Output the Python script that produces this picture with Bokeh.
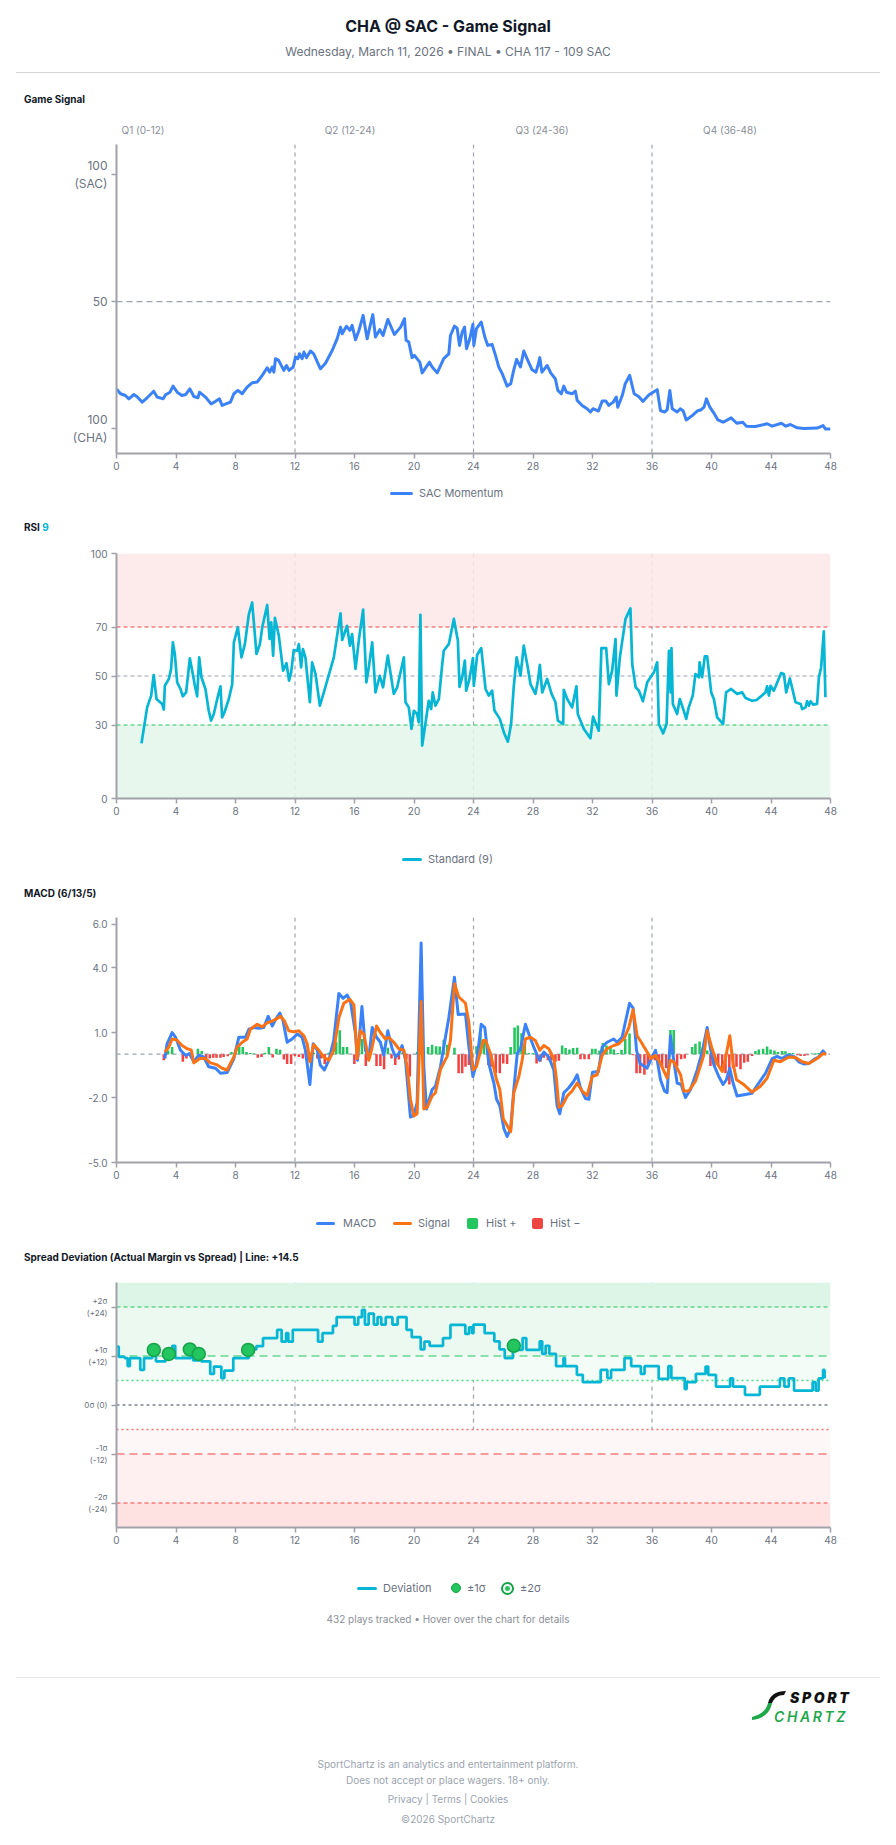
from bokeh.plotting import figure
from bokeh.models import (Span, BoxAnnotation, FixedTicker, Div, NumeralTickFormatter, Range1d)
from bokeh.layouts import column
from bokeh.embed import file_html
from bokeh.resources import INLINE

# ---------------- data ----------------
quarter_labels = ["Q1 (0-12)", "Q2 (12-24)", "Q3 (24-36)", "Q4 (36-48)"]
quarter_breaks = [12, 24, 36]
x_ticks = [0, 4, 8, 12, 16, 20, 24, 28, 32, 36, 40, 44, 48]

# SAC momentum (0 = 100 CHA, 100 = 100 SAC)
momentum = [(0, 15.7), (0.27, 13.8), (0.6, 13.1), (0.83, 11.8), (1.17, 13.5), (1.4, 12.5), (1.73, 10.5),
            (2.06, 12.2), (2.5, 14.8), (2.73, 12.5), (3.14, 11.8), (3.3, 13.4), (3.6, 14.4), (3.8, 16.8),
            (4.08, 14.4), (4.4, 13.1), (4.66, 13.5), (4.93, 15.7), (5.2, 12.7), (5.47, 12.2), (5.58, 14.4),
            (5.98, 12.5), (6.36, 9.8), (6.66, 10.8), (6.92, 11.8), (7.1, 9.2), (7.66, 10.5), (7.89, 13.8),
            (8.16, 15.1), (8.45, 13.8), (8.78, 16.4), (9.12, 18.1), (9.46, 18.4), (9.8, 21.0), (10.13, 24.0),
            (10.3, 22.3), (10.47, 24.3), (10.58, 22.3), (10.69, 27.6), (10.9, 26.9), (11.25, 23.0),
            (11.43, 24.9), (11.6, 23.0), (11.88, 24.3), (12.03, 28.2), (12.2, 27.6), (12.3, 29.5),
            (12.48, 27.6), (12.6, 30.2), (12.77, 28.0), (13.04, 30.6), (13.26, 29.5), (13.71, 23.6),
            (14.05, 25.8), (14.5, 30.8), (14.83, 35.4), (15.06, 40.0), (15.17, 37.4), (15.46, 40.3),
            (15.69, 38.7), (15.84, 40.7), (16.07, 35.0), (16.3, 38.7), (16.58, 44.6), (16.85, 35.4),
            (17.03, 40.0), (17.23, 44.9), (17.41, 36.1), (17.7, 39.0), (17.92, 36.7), (18.24, 43.0),
            (18.68, 37.1), (19.1, 40.0), (19.36, 43.3), (19.47, 34.8), (19.65, 34.1), (19.87, 28.0),
            (20.03, 28.9), (20.39, 26.2), (20.55, 22.0), (21.04, 26.2), (21.22, 24.3), (21.56, 22.0),
            (22.0, 27.6), (22.34, 29.5), (22.45, 36.7), (22.72, 40.4), (22.9, 39.6), (23.06, 32.8),
            (23.24, 38.0), (23.4, 40.0), (23.53, 31.5), (23.75, 35.4), (23.96, 41.1), (24.02, 32.8),
            (24.2, 39.4), (24.52, 42.0), (24.76, 36.1), (24.96, 32.8), (25.25, 33.2), (25.5, 28.5),
            (25.7, 24.3), (25.93, 21.7), (26.26, 16.8), (26.5, 17.7), (26.7, 23.0), (26.9, 27.3),
            (27.16, 24.3), (27.38, 30.6), (27.65, 26.9), (27.94, 23.2), (28.2, 22.3), (28.33, 24.9),
            (28.46, 28.0), (28.6, 22.3), (28.95, 24.9), (29.2, 21.9), (29.5, 19.7), (29.67, 15.1),
            (29.9, 13.8), (30.07, 16.8), (30.25, 14.4), (30.63, 13.8), (30.85, 14.8), (30.97, 11.2),
            (31.3, 9.2), (31.64, 7.9), (31.86, 6.6), (32.04, 7.9), (32.4, 7.0), (32.65, 10.9),
            (32.9, 10.9), (33.1, 9.2), (33.39, 10.5), (33.6, 12.5), (33.7, 8.5), (34.0, 13.1),
            (34.2, 17.7), (34.5, 21.0), (34.8, 13.8), (35.1, 12.7), (35.4, 10.8), (35.8, 13.4),
            (36.35, 15.4), (36.57, 7.2), (36.84, 6.6), (37.02, 7.5), (37.2, 15.1), (37.36, 7.9),
            (37.69, 6.6), (37.9, 7.9), (38.1, 7.0), (38.3, 3.5), (38.7, 5.2), (39.04, 7.0), (39.3, 7.5),
            (39.5, 8.5), (39.66, 11.8), (39.89, 8.5), (40.16, 6.2), (40.43, 3.5), (40.78, 2.6),
            (41.32, 4.3), (41.7, 2.2), (42.1, 2.6), (42.35, 1.05), (42.96, 0.9), (43.74, 2.0),
            (44.08, 1.05), (44.7, 2.2), (45.0, 1.05), (45.3, 1.7), (45.76, 0.4), (46.2, 0.1),
            (47.1, 0.3), (47.5, 1.3), (47.67, -0.1), (48.0, -0.1)]
momentum_ticks = {0: "100\n(CHA)", 50: "50", 100: "100\n(SAC)"}

rsi = [(1.68, 22.5), (2.06, 37.2), (2.33, 42), (2.5, 50.4), (2.69, 40.6), (3.07, 38.6), (3.18, 36.3),
       (3.25, 46), (3.52, 48.8), (3.67, 52.9), (3.79, 63.7), (3.92, 59), (4.08, 47.4), (4.3, 44.7),
       (4.46, 41.7), (4.68, 43.3), (4.93, 57.2), (5.13, 50.8), (5.27, 46), (5.42, 41.7), (5.56, 57.6),
       (5.71, 49.5), (5.98, 44.7), (6.2, 35.8), (6.36, 31.8), (6.54, 34.5), (6.77, 40.6), (6.99, 45.8),
       (7.1, 33.1), (7.26, 35.2), (7.55, 40.6), (7.78, 46.7), (7.89, 63.7), (8.16, 69.9), (8.4, 57.6),
       (8.63, 63), (8.9, 75.3), (9.12, 80), (9.41, 59), (9.64, 63), (9.8, 69.9), (10.13, 79),
       (10.29, 65.1), (10.4, 71.9), (10.53, 58.3), (10.65, 73.7), (10.91, 66.5), (11.2, 52.2),
       (11.43, 55.2), (11.6, 48.1), (11.74, 51.5), (11.92, 60.6), (12.15, 60.3), (12.26, 63),
       (12.41, 53.5), (12.53, 61), (12.7, 57.6), (13.0, 39.3), (13.15, 55.6), (13.38, 50.8),
       (13.67, 37.9), (13.94, 43.3), (14.61, 57.6), (15.06, 75.6), (15.17, 64.7), (15.5, 70.5),
       (15.69, 62.4), (15.84, 67.1), (16.07, 52.9), (16.3, 65.1), (16.58, 77.1), (16.8, 47.4),
       (16.96, 53.5), (17.19, 63.7), (17.41, 43.3), (17.7, 50.1), (17.92, 45.4), (18.24, 58.3),
       (18.64, 42.7), (18.87, 45.4), (19.32, 57.6), (19.43, 39.3), (19.65, 37.2), (19.83, 28.4),
       (19.99, 35.8), (20.21, 34.5), (20.32, 31.1), (20.43, 75), (20.55, 21.6), (20.7, 27.7),
       (20.99, 39.9), (21.15, 36.5), (21.26, 43.3), (21.44, 37.9), (21.67, 40.6), (21.9, 54.9),
       (22.0, 60.3), (22.34, 63), (22.68, 73.3), (22.95, 64.4), (23.06, 45.6), (23.24, 49.5),
       (23.42, 56.3), (23.51, 44), (23.73, 48.8), (23.96, 57.3), (24.02, 46), (24.25, 58.7),
       (24.52, 61.4), (24.81, 44.7), (25.03, 42), (25.25, 44), (25.41, 35.9), (25.77, 32.5),
       (26.04, 27), (26.31, 23.2), (26.53, 30.4), (26.71, 46), (26.9, 57.6), (27.16, 50.1),
       (27.38, 62.4), (27.65, 53.5), (27.83, 46.7), (28.16, 42.7), (28.33, 48.1), (28.46, 54.5),
       (28.62, 43.3), (28.95, 48.8), (29.25, 42.7), (29.51, 39.3), (29.67, 31.8), (30.03, 30.4),
       (30.07, 44.3), (30.3, 40.6), (30.63, 37.2), (30.92, 45.8), (31.01, 34.5), (31.42, 28.4),
       (31.86, 24.6), (32.04, 33.4), (32.42, 27.7), (32.6, 61.4), (32.92, 61.4), (33.1, 46.7),
       (33.32, 52.2), (33.55, 65.1), (33.61, 42), (33.84, 57.6), (34.22, 73.3), (34.55, 77.6),
       (34.67, 54.9), (34.9, 45.4), (35.12, 44), (35.39, 39.7), (35.68, 47.4), (36.13, 51.5),
       (36.35, 55.6), (36.46, 30.4), (36.75, 26.6), (36.98, 30.4), (37.14, 60.3), (37.25, 43.3),
       (37.31, 61.4), (37.4, 38.6), (37.69, 34.5), (37.87, 40.6), (38.1, 36.5), (38.3, 32.5),
       (38.47, 37.2), (38.74, 42), (38.92, 50.8), (39.15, 49.5), (39.2, 55.6), (39.37, 49.5),
       (39.55, 58), (39.71, 58), (39.98, 43.3), (40.16, 40.6), (40.38, 33.1), (40.78, 30.4),
       (40.98, 43.3), (41.32, 44.7), (41.72, 42.7), (42.06, 43.3), (42.29, 41), (42.73, 39.9),
       (43.03, 40.2), (43.63, 43.3), (43.74, 45.8), (43.86, 42), (43.97, 46), (44.19, 44),
       (44.68, 51.2), (44.87, 50.8), (45.02, 43.3), (45.27, 49), (45.65, 39.3), (45.99, 38.6),
       (46.1, 36.5), (46.32, 37.2), (46.43, 39.7), (46.55, 37.9), (46.66, 39.7), (46.84, 38.3),
       (47.1, 38.6), (47.22, 49.5), (47.37, 53.5), (47.55, 68.2), (47.66, 41.3)]
rsi_ticks = [0, 30, 50, 70, 100]

macd = [(3.25, -0.2), (3.4, 0.48), (3.74, 1.0), (3.97, 0.78), (4.3, 0.18), (4.64, -0.05), (4.9, 0.03),
        (5.2, -0.35), (5.53, -0.05), (5.87, -0.13), (6.2, -0.58), (6.66, -0.65), (6.99, -0.88),
        (7.44, -0.85), (7.89, -0.2), (8.22, 0.78), (8.67, 0.78), (8.9, 1.15), (9.23, 1.23), (9.57, 1.2),
        (9.9, 1.23), (10.2, 1.75), (10.47, 1.3), (10.69, 1.6), (10.98, 1.9), (11.2, 1.53), (11.47, 0.55),
        (11.8, 0.7), (12.15, 0.93), (12.48, 0.78), (12.7, 0.18), (13.0, -1.4), (13.22, 0.48),
        (13.5, 0.18), (13.7, -0.5), (13.98, -0.73), (14.27, -0.28), (14.6, 0.63), (14.95, 2.8),
        (15.23, 2.58), (15.5, 2.73), (15.73, 2.43), (16.07, 0.93), (16.2, -0.28), (16.5, 2.2),
        (16.74, 0.18), (16.96, -0.2), (17.19, 1.23), (17.48, 0.78), (17.74, 0.55), (17.97, -0.05),
        (18.24, 1.08), (18.53, 0.25), (18.76, -0.13), (18.98, 0.03), (19.2, 0.4), (19.43, -0.28),
        (19.76, -2.9), (19.99, -2.83), (20.21, -2.23), (20.48, 5.13), (20.66, -0.58), (20.84, -2.53),
        (21.22, -1.63), (21.44, -1.48), (21.78, -0.58), (22.0, 0.33), (22.34, 1.68), (22.72, 3.55),
        (22.97, 1.83), (23.46, 1.86), (23.69, 0.33), (23.96, -1.03), (24.2, -0.43), (24.52, 1.38),
        (24.76, 1.23), (25.03, -0.43), (25.37, -1.33), (25.55, -2.08), (25.77, -2.38), (26.04, -3.43),
        (26.26, -3.8), (26.5, -3.43), (26.71, -1.63), (26.94, 0.03), (27.16, 0.25), (27.49, 1.38),
        (27.72, 0.93), (28.05, 0.33), (28.43, -0.28), (28.73, 0.1), (29.06, -0.13), (29.4, -0.73),
        (29.62, -2.38), (29.8, -2.75), (30.07, -1.78), (30.41, -1.55), (30.74, -1.25), (30.97, -0.95),
        (31.19, -1.55), (31.53, -2.05), (31.76, -2.08), (32.0, -0.83), (32.4, -0.8), (32.65, 0.33),
        (32.98, 0.55), (33.43, 0.7), (33.65, 0.55), (33.99, 0.78), (34.2, 1.45), (34.49, 2.35),
        (34.73, 2.13), (34.96, 0.18), (35.2, -0.43), (35.67, -0.65), (35.9, -0.28), (36.24, 0.18),
        (36.57, -1.18), (36.84, -1.7), (37.02, -1.78), (37.24, 0.85), (37.46, -0.28), (37.69, -1.33),
        (37.96, -1.4), (38.25, -2.0), (38.59, -1.63), (39.04, -0.73), (39.37, 0.1), (39.71, 1.23),
        (39.93, 0.25), (40.16, -0.5), (40.49, -1.03), (40.78, -1.4), (41.0, -1.18), (41.23, -0.65),
        (41.45, -1.33), (41.72, -1.93), (42.73, -1.8), (43.03, -1.48), (43.63, -0.88), (44.08, -0.2),
        (44.41, -0.1), (44.75, -0.2), (45.09, -0.05), (45.53, -0.1), (45.87, -0.35), (46.2, -0.45),
        (46.54, -0.43), (46.99, -0.2), (47.2, -0.13), (47.5, 0.15), (47.66, 0.0)]

signal = [(3.25, 0.1), (3.52, 0.33), (3.74, 0.7), (4.03, 0.67), (4.41, 0.4), (4.75, 0.25), (5.02, 0.2),
          (5.2, -0.4), (5.6, -0.2), (5.98, -0.2), (6.32, -0.4), (6.72, -0.48), (7.1, -0.65), (7.44, -0.73),
          (7.66, -0.43), (7.89, -0.13), (8.11, 0.33), (8.45, 0.55), (8.78, 0.7), (9.0, 1.15), (9.46, 1.38),
          (9.8, 1.26), (10.13, 1.45), (10.47, 1.53), (10.76, 1.63), (11.03, 1.75), (11.29, 1.53),
          (11.58, 1.08), (11.92, 1.03), (12.26, 1.08), (12.6, 0.85), (12.82, 0.48), (13.0, -0.35),
          (13.26, 0.45), (13.6, 0.18), (13.94, -0.13), (14.27, -0.28), (14.61, 0.18), (14.95, 1.68),
          (15.28, 2.35), (15.69, 2.53), (15.96, 2.28), (16.18, -0.2), (16.4, 1.08), (16.63, 0.93),
          (16.96, -0.28), (17.19, 0.33), (17.48, 1.3), (17.74, 1.0), (18.08, 0.7), (18.3, 0.78),
          (18.64, 0.55), (18.98, 0.25), (19.32, 0.18), (19.54, -0.58), (19.76, -2.08), (19.99, -2.85),
          (20.21, -2.75), (20.48, 2.43), (20.66, -2.53), (20.88, -2.45), (21.22, -1.93), (21.44, -1.78),
          (21.78, -0.7), (22.23, -0.1), (22.45, 0.63), (22.72, 3.25), (23.0, 2.65), (23.46, 2.35),
          (23.69, 1.45), (23.96, -0.73), (24.2, -0.58), (24.65, 0.63), (24.81, 0.63), (25.14, 0.03),
          (25.55, -1.18), (25.77, -1.63), (26.0, -2.98), (26.5, -3.58), (26.71, -1.78), (27.05, -1.03),
          (27.27, -0.28), (27.49, 0.7), (27.83, 0.78), (28.16, 0.63), (28.46, 0.18), (28.73, 0.4),
          (29.06, 0.25), (29.4, -0.2), (29.58, -1.18), (29.74, -2.45), (29.96, -2.38), (30.3, -1.93),
          (30.63, -1.7), (30.97, -1.33), (31.3, -1.7), (31.64, -1.9), (31.98, -1.03), (32.31, -0.95),
          (32.65, -0.05), (32.98, 0.25), (33.43, 0.4), (33.77, 0.48), (34.1, 0.7), (34.44, 1.23),
          (34.73, 2.05), (35.0, 0.85), (35.34, 0.48), (35.67, 0.1), (35.94, -0.2), (36.24, -0.05),
          (36.57, -0.43), (37.02, -1.1), (37.24, -0.28), (37.46, -0.35), (37.92, -0.95), (38.14, -1.7),
          (38.47, -1.7), (38.92, -1.25), (39.48, -0.05), (39.71, 1.08), (40.04, 0.25), (40.38, -0.43),
          (40.72, -0.8), (40.94, -0.2), (41.23, 0.85), (41.45, -0.43), (41.68, -1.18), (42.17, -1.4),
          (42.73, -1.75), (43.29, -1.48), (43.74, -1.1), (44.19, -0.28), (44.64, -0.35), (45.2, -0.13),
          (45.65, -0.15), (46.1, -0.35), (46.54, -0.43), (47.1, -0.2), (47.5, 0.03), (47.72, 0.0)]

histogram = [(3.18, -0.28), (3.47, 0.17), (3.74, 0.33), (4.46, -0.35), (4.7, -0.2), (5.47, 0.25), (5.73, 0.15),
             (6.03, -0.2), (6.27, -0.2), (6.5, -0.17), (6.72, -0.17), (6.99, -0.17), (7.2, -0.13),
             (7.48, -0.1), (7.73, 0.1), (8.0, 0.22), (8.25, 0.35), (8.49, 0.33), (8.74, 0.1), (9.0, 0.05),
             (9.23, 0.03), (9.5, -0.17), (9.75, -0.13), (9.97, 0.07), (10.24, 0.33), (10.5, -0.15),
             (10.75, 0.25), (11.0, 0.2), (11.25, -0.25), (11.47, -0.45), (11.74, -0.45), (11.99, -0.08),
             (12.26, -0.13), (12.53, -0.2), (12.77, -0.2), (13.02, 0.07), (13.26, 0.07), (13.5, -0.2),
             (13.76, -0.2), (14.0, -0.45), (14.27, 0.07), (14.52, 0.1), (14.77, 0.55), (15.01, 1.1),
             (15.24, 0.33), (15.5, 0.33), (15.99, -0.45), (16.24, -0.13), (16.5, 0.7), (16.76, -0.55),
             (17.0, -0.13), (17.48, -0.55), (17.74, -0.55), (17.99, -0.7), (18.24, 0.3), (18.49, -0.2),
             (18.74, -0.5), (18.98, -0.25), (19.2, 0.07), (19.49, -0.25), (19.72, -1.03), (20.21, 0.1),
             (20.48, 0.3), (20.95, 0.33), (21.22, 0.43), (21.49, 0.37), (21.73, 0.35), (22.0, 0.67),
             (22.23, 0.43), (22.72, 0.3), (23.0, -0.88), (23.24, -0.88), (23.46, -0.58), (23.69, -0.5),
             (24.2, 0.37), (24.47, 0.95), (24.7, 0.6), (25.0, -0.5), (25.2, -0.58), (25.5, -0.88),
             (25.77, -0.88), (26.0, -0.43), (26.26, -0.45), (26.5, 0.33), (26.76, 1.23), (26.98, 1.33),
             (27.23, 0.97), (27.45, 0.4), (27.72, 0.05), (27.99, 0.05), (28.24, -0.43), (28.5, -0.35),
             (28.73, -0.17), (29.0, -0.28), (29.24, -0.28), (29.51, -0.35), (29.74, -0.3), (29.96, 0.4),
             (30.19, 0.28), (30.45, 0.22), (30.7, 0.28), (30.97, 0.3), (31.19, -0.23), (31.46, -0.23),
             (31.75, -0.23), (31.98, 0.25), (32.2, 0.25), (32.47, 0.17), (32.7, 0.52), (32.94, 0.4),
             (33.21, 0.3), (33.43, 0.22), (33.7, 0.05), (33.95, 0.2), (34.2, 0.7), (34.49, 0.95),
             (34.73, -0.05), (34.96, -0.88), (35.2, -0.88), (35.49, -0.95), (35.72, -0.58), (36.19, -0.28),
             (36.46, -0.5), (36.68, -0.65), (36.95, -0.65), (37.24, 1.12), (37.46, 1.12), (37.69, -0.55),
             (37.96, -0.23), (38.2, -0.2), (38.7, 0.33), (38.92, 0.48), (39.2, 0.58), (39.42, 0.3),
             (39.71, 0.17), (39.93, -0.55), (40.2, -0.55), (40.45, -0.55), (40.72, -0.65), (40.94, -0.88),
             (41.2, -1.4), (41.45, -0.65), (41.68, -0.58), (41.95, -0.7), (42.2, -0.4), (42.44, -0.35),
             (42.73, -0.08), (42.95, 0.15), (43.18, 0.22), (43.47, 0.25), (43.74, 0.35), (43.97, 0.22),
             (44.23, 0.17), (44.46, 0.1), (44.75, 0.15), (44.97, 0.13), (45.24, 0.05), (45.49, 0.05),
             (45.76, -0.05), (45.99, -0.08), (46.25, -0.08), (46.48, -0.05), (46.73, 0.03), (47.0, 0.03),
             (47.2, 0.05), (47.5, 0.05)]
macd_ticks = [-5, -2, 1, 4, 6]

# Spread deviation (actual margin minus spread), step values
deviation = [(0, 14.3), (0.15, 11.8), (0.55, 11.5), (0.75, 9.5), (0.9, 11.5), (1.6, 8.6), (1.85, 11.5),
             (2.4, 13.3), (2.65, 10.7), (3.3, 12.1), (3.75, 14.5), (3.95, 11.5), (5.0, 13.3), (5.15, 10.9),
             (5.7, 10.7), (6.3, 7.6), (6.55, 9.4), (7.05, 6.6), (7.25, 8.4), (7.85, 11.5), (8.9, 13.6),
             (9.4, 14.4), (9.85, 16.4), (10.8, 18.4), (11.1, 15.5), (11.4, 17.6), (11.55, 15.5),
             (11.85, 18.4), (13.55, 15.5), (13.85, 17.6), (14.55, 19.4), (14.8, 21.5), (16.0, 19.7),
             (16.25, 21.5), (16.5, 23.3), (16.7, 19.7), (16.95, 22.4), (17.3, 19.7), (17.55, 21.5),
             (17.8, 19.7), (18.1, 21.5), (18.55, 19.7), (18.9, 21.5), (19.5, 18.4), (19.85, 16.6),
             (20.45, 13.6), (20.7, 15.5), (21.05, 14.5), (21.95, 16.4), (22.45, 19.6), (23.45, 17.4),
             (23.7, 19.0), (23.9, 17.6), (24.0, 19.7), (24.75, 17.6), (25.4, 15.6), (25.75, 13.6),
             (26.1, 11.5), (26.65, 13.5), (27.3, 16.4), (27.55, 13.5), (28.45, 15.6), (28.62, 12.5),
             (28.85, 14.5), (29.1, 12.5), (29.55, 9.5), (30.05, 11.5), (30.15, 9.5), (30.95, 7.4),
             (31.35, 5.6), (32.55, 8.6), (33.0, 6.6), (33.25, 8.6), (34.15, 11.5), (34.6, 9.5),
             (35.25, 7.6), (35.5, 9.5), (36.45, 6.4), (37.1, 9.5), (37.3, 6.6), (38.2, 3.9), (38.33, 5.6),
             (38.95, 7.6), (39.6, 9.4), (39.78, 7.4), (40.3, 4.5), (41.25, 6.5), (41.45, 4.5), (42.25, 2.5),
             (43.25, 4.5), (44.6, 6.5), (44.9, 4.5), (45.2, 6.5), (45.55, 3.5), (46.8, 5.6), (47.0, 3.5),
             (47.2, 6.5), (47.5, 8.6), (47.6, 6.9), (47.7, 6.9)]
sigma1_events = [(2.51, 13.5), (3.52, 12.5), (4.93, 13.6), (5.53, 12.5), (8.85, 13.5), (26.71, 14.5)]
spread_ticks = {24: "+2σ\n(+24)", 12: "+1σ\n(+12)", 0: "0σ (0)", -12: "-1σ\n(-12)", -24: "-2σ\n(-24)"}

# ---------------- style ----------------
W = 896
FONT = "Inter"
AXIS = "#a1a1aa"
TICK = "#6b7280"
QLINE = "#9ca3af"
BLUE = "#3b82f6"
CYAN = "#06b6d4"
ORANGE = "#f97316"
GREEN = "#22c55e"
RED = "#ef4444"


def xs(pairs):
    return [a for a, _ in pairs]


def ys(pairs):
    return [b for _, b in pairs]


def make_fig(height, top_border, frame_h, y0, y1):
    p = figure(width=W, height=height, x_range=Range1d(0, 48), y_range=Range1d(y0, y1),
               output_backend="svg", toolbar_location=None, tools="",
               min_border_left=116, min_border_right=66, min_border_top=top_border,
               min_border_bottom=height - top_border - frame_h)
    p.outline_line_color = None
    p.xgrid.visible = False
    p.ygrid.visible = False
    p.margin = (0, 0, 0, 0)
    for ax in (p.xaxis[0], p.yaxis[0]):
        ax.axis_line_color = AXIS
        ax.axis_line_width = 2
        ax.major_tick_line_color = AXIS
        ax.major_tick_line_width = 1.5
        ax.major_tick_out = 5
        ax.major_tick_in = 0
        ax.minor_tick_line_color = None
        ax.major_label_text_color = TICK
        ax.major_label_text_font = FONT
        ax.major_label_text_font_size = "10px"
    p.xaxis.ticker = FixedTicker(ticks=x_ticks)
    p.xaxis.major_label_standoff = 3
    p.yaxis.major_label_standoff = 4
    for q in quarter_breaks:
        p.add_layout(Span(location=q, dimension="height", line_color=QLINE, line_dash="4 4",
                          line_width=1.2, level="underlay"))
    return p


def hspan(p, loc, color, dash, width=1.2):
    p.add_layout(Span(location=loc, dimension="width", line_color=color, line_dash=dash,
                      line_width=width, level="underlay"))


# ---------------- Game Signal ----------------
p1 = make_fig(338, 4, 309, -9.7, 111.8)
hspan(p1, 50, QLINE, "6 4")
p1.line(xs(momentum), ys(momentum), line_color=BLUE, line_width=3, line_join="round")
p1.yaxis.ticker = FixedTicker(ticks=list(momentum_ticks.keys()))
p1.yaxis.major_label_overrides = momentum_ticks
p1.yaxis.major_label_text_font_size = "12px"

# ---------------- RSI ----------------
p2 = make_fig(277, 10, 245, 0, 100)
p2.add_layout(BoxAnnotation(bottom=70, top=100, fill_color="#fde8e8", fill_alpha=0.85,
                            line_color=None, level="underlay"))
p2.add_layout(BoxAnnotation(bottom=0, top=30, fill_color="#e3f6ea", fill_alpha=0.85,
                            line_color=None, level="underlay"))
hspan(p2, 70, RED, "4 3")
hspan(p2, 30, GREEN, "4 3")
hspan(p2, 50, QLINE, "4 3")
p2.line(xs(rsi), ys(rsi), line_color=CYAN, line_width=2.7, line_join="round")
p2.yaxis.ticker = FixedTicker(ticks=rsi_ticks)

# ---------------- MACD ----------------
p3 = make_fig(278, 10, 245, -5, 6.31)
hspan(p3, 0, QLINE, "4 4")
hpos = [(a, b) for a, b in histogram if b >= 0]
hneg = [(a, b) for a, b in histogram if b < 0]
p3.vbar(x=xs(hpos), top=ys(hpos), bottom=0, width=0.17, fill_color=GREEN, line_color=None)
p3.vbar(x=xs(hneg), top=ys(hneg), bottom=0, width=0.17, fill_color=RED, line_color=None)
p3.line(xs(macd), ys(macd), line_color=BLUE, line_width=3, line_join="round")
p3.line(xs(signal), ys(signal), line_color=ORANGE, line_width=3, line_join="round")
p3.yaxis.ticker = FixedTicker(ticks=macd_ticks)
p3.yaxis.formatter = NumeralTickFormatter(format="0.0")

# ---------------- Spread Deviation ----------------
p4 = make_fig(280, 12, 245, -30, 30)
zones = [(24, 30, "#dcf5e6"), (12, 24, "#ebf9f0"), (6, 12, "#f3fcf6"),
         (-12, -6, "#fef7f7"), (-24, -12, "#fef0f0"), (-30, -24, "#fee2e2")]
for b, tp, c in zones:
    p4.add_layout(BoxAnnotation(bottom=b, top=tp, fill_color=c, fill_alpha=1, line_color=None,
                                level="underlay"))
hspan(p4, 24, GREEN, "4 3")
hspan(p4, 12, GREEN, "8 5")
hspan(p4, 6, "#4ade80", "2 3", 1.6)
hspan(p4, 0, QLINE, "3 3", 2)
hspan(p4, -6, "#f87171", "2 3", 1.6)
hspan(p4, -12, RED, "8 5")
hspan(p4, -24, RED, "4 3")
p4.step(xs(deviation), ys(deviation), mode="after", line_color=CYAN, line_width=2.7)
p4.scatter(xs(sigma1_events), ys(sigma1_events), size=13, fill_color=GREEN,
           line_color="#16a34a", line_width=1.5)
p4.yaxis.ticker = FixedTicker(ticks=list(spread_ticks.keys()))
p4.yaxis.major_label_overrides = spread_ticks
p4.yaxis.major_label_text_font_size = "8px"


# ---------------- text / legend blocks (HTML) ----------------
def t(x, y, s, size, color, weight=400, align="left", w=None, extra="", lh=None):
    lh = lh or round(size * 1.3)
    top = y - lh / 2
    if align == "center":
        w = w or 300
        left = x - w / 2
        return (f'<div style="position:absolute;left:{left}px;width:{w}px;top:{top}px;text-align:center;'
                f'font-family:Inter,sans-serif;font-size:{size}px;font-weight:{weight};line-height:{lh}px;'
                f'color:{color};white-space:nowrap;{extra}">{s}</div>')
    return (f'<div style="position:absolute;left:{x}px;top:{top}px;font-family:Inter,sans-serif;'
            f'font-size:{size}px;font-weight:{weight};line-height:{lh}px;color:{color};'
            f'white-space:nowrap;{extra}">{s}</div>')


def box(left, top, w, h, style):
    return f'<div style="position:absolute;left:{left}px;top:{top}px;width:{w}px;height:{h}px;{style}"></div>'


def leg_line(x0, x1, y, color, label, tx):
    return box(x0, y - 1.5, x1 - x0, 3, f"background:{color};border-radius:1.5px;") + t(tx, y, label, 11, TICK)


def leg_square(cx, y, color, label, tx):
    return box(cx - 5.5, y - 5.5, 11, 11, f"background:{color};border-radius:2px;") + t(tx, y, label, 11, TICK)


def block(h, inner):
    return Div(text=f'<div style="position:relative;width:{W}px;height:{h}px;overflow:hidden;">{inner}</div>',
               width=W, height=h, margin=(0, 0, 0, 0), styles={"padding": "0", "margin": "0"})


hdr = ""
hdr += t(448, 26, "CHA @ SAC - Game Signal", 16, "#111827", 700, "center", 600)
hdr += t(448, 52, "Wednesday, March 11, 2026 • FINAL • CHA 117 - 109 SAC", 12, "#6b7280", 400, "center", 600)
hdr += box(16, 72, 864, 1, "background:#d4d4d8;")
hdr += t(24, 99, "Game Signal", 10, "#111827", 700)
for cx, lab in zip([143, 350, 542, 730], quarter_labels):
    hdr += t(cx, 130, lab, 10, "#8b8f98", 400, "center", 120)
header = block(140, hdr)

# below Game Signal: legend + RSI title   (block spans y 478..543)
b1 = leg_line(390, 413, 15, BLUE, "SAC Momentum", 419)
b1 += t(24, 49, 'RSI <span style="color:#06b6d4">9</span>', 10, "#111827", 700)
blk1 = block(65, b1)

# below RSI: legend + MACD title   (y 820..907)
b2 = leg_line(402, 422, 39, CYAN, "Standard (9)", 428)
b2 += t(24, 73, "MACD (6/13/5)", 10, "#111827", 700)
blk2 = block(87, b2)

# below MACD: legend + spread title   (y 1185..1270)
b3 = leg_line(316, 335, 38, BLUE, "MACD", 343)
b3 += leg_line(393, 412, 38, ORANGE, "Signal", 418)
b3 += leg_square(472.5, 38, GREEN, "Hist +", 486)
b3 += leg_square(537.5, 38, RED, "Hist −", 550)
b3 += t(24, 72, "Spread Deviation (Actual Margin vs Spread) | Line: +14.5", 10, "#111827", 700)
blk3 = block(85, b3)

# footer (y 1550..1845)
logo_svg = ('<svg style="position:absolute;left:750px;top:139px;" width="40" height="32" viewBox="0 0 40 32">'
            '<path d="M36 2 C26 2 20 6 18 14 L22 14 C24 9 28 6 34 6 Z" fill="#111"/>'
            '<path d="M18 14 C16 22 10 26 2 28 L2 31 C12 30 20 25 22 14 Z" fill="#1ea84a"/>'
            '</svg>')
f = ""
f += leg_line(357, 377, 38, CYAN, "Deviation", 383)
f += box(451, 33, 10, 10, "background:#22c55e;border-radius:50%;box-sizing:border-box;border:1px solid #16a34a;")
f += t(467, 38, "±1σ", 11, TICK)
f += box(500.5, 31.5, 13, 13, "background:white;border-radius:50%;box-sizing:border-box;border:2px solid #16a34a;")
f += box(504.5, 35.5, 5, 5, "background:#22c55e;border-radius:50%;")
f += t(520, 38, "±2σ", 11, TICK)
f += t(448, 69, "432 plays tracked • Hover over the chart for details", 10, "#8b8f98", 400, "center", 500)
f += box(16, 127, 864, 1, "background:#e5e7eb;")
f += logo_svg
f += t(790, 148, "SPORT", 14, "#111111", 900, extra="font-style:italic;letter-spacing:2.6px;", lh=14)
f += t(774, 167, "CHARTZ", 14, "#1ea84a", 600, extra="font-style:italic;letter-spacing:2.6px;", lh=14)
f += t(448, 214, "SportChartz is an analytics and entertainment platform.", 10, "#9ca3af", 400, "center", 500)
f += t(448, 230, "Does not accept or place wagers. 18+ only.", 10, "#9ca3af", 400, "center", 500)
f += t(448, 249, "Privacy | Terms | Cookies", 10, "#9ca3af", 400, "center", 500)
f += t(448, 269, "©2026 SportChartz", 10, "#9ca3af", 400, "center", 500)
footer = block(295, f)

page = column([header, p1, blk1, p2, blk2, p3, blk3, p4, footer], spacing=0, margin=(0, 0, 0, 0))

open("out.html", "w").write(file_html(page, INLINE, title="CHA @ SAC - Game Signal"))
